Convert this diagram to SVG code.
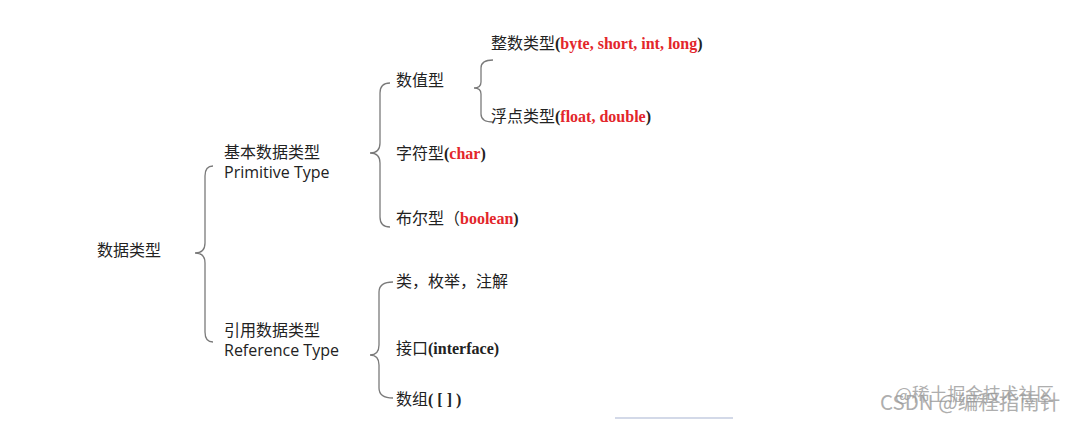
<svg xmlns="http://www.w3.org/2000/svg" width="1068" height="421" viewBox="0 0 1068 421">
<style>
.cn{font-family:"Noto Sans CJK SC","Open Sans",sans-serif;font-size:16px;fill:#222}
.en{font-family:"Open Sans","Noto Sans CJK SC",sans-serif;font-size:16px;fill:#222}
.sr{font-family:"Liberation Serif","Noto Sans CJK SC",serif;font-weight:bold;font-size:16px;fill:#222}
.red{fill:#e3262b}
.brace{fill:none;stroke:#7a7a7a;stroke-width:1.3}
.wm{font-family:"Noto Sans CJK SC","Liberation Sans",sans-serif;fill:#9a9a9a;opacity:0.8}
</style>
<rect width="1068" height="421" fill="#ffffff"/>
<g id="connectors">
<path class="brace" d="M213,166 Q205,166 205,176 L205,243 Q205,253 195,253 Q205,253 205,263 L205,332 Q205,342 213,342"/>
<path class="brace" d="M390,83 Q380,83 380,93 L380,143 Q380,153 370,153 Q380,153 380,163 L380,217 Q380,227 390,227"/>
<path class="brace" d="M393,282 Q379,282 379,292 L379,345 Q379,355 370,355 Q379,355 379,365 L379,388 Q379,398 393,398"/>
<path class="brace" d="M493,60 Q481,60 481,68 L481,82 Q481,88 474,88 Q481,88 481,94 L481,114 Q481,122 493,122"/>
</g>
<g id="root"><text class="cn" x="97" y="256">数据类型</text></g>
<g id="primitive"><text class="cn" x="224" y="158">基本数据类型</text><text class="en" x="224" y="178">Primitive Type</text></g>
<g id="reference"><text class="cn" x="224" y="336">引用数据类型</text><text class="en" x="224" y="356">Reference Type</text></g>
<g id="numeric"><text class="cn" x="396" y="86">数值型</text></g>
<g id="integer"><text x="491" y="49"><tspan class="cn">整数类型</tspan><tspan class="sr">(</tspan><tspan class="sr red">byte, short, int, long</tspan><tspan class="sr">)</tspan></text></g>
<g id="float"><text x="491" y="122"><tspan class="cn">浮点类型</tspan><tspan class="sr">(</tspan><tspan class="sr red">float, double</tspan><tspan class="sr">)</tspan></text></g>
<g id="char"><text x="396" y="159"><tspan class="cn">字符型</tspan><tspan class="sr">(</tspan><tspan class="sr red">char</tspan><tspan class="sr">)</tspan></text></g>
<g id="boolean"><text x="396" y="224"><tspan class="cn">布尔型（</tspan><tspan class="sr red">boolean</tspan><tspan class="sr">)</tspan></text></g>
<g id="class"><text class="cn" x="396" y="287">类，枚举，注解</text></g>
<g id="interface"><text x="396" y="354"><tspan class="cn">接口</tspan><tspan class="sr">(interface)</tspan></text></g>
<g id="array"><text x="396" y="405"><tspan class="cn">数组</tspan><tspan class="sr" font-weight="normal">( [ ] )</tspan></text></g>
<g id="watermark">
<text class="wm" x="895" y="401" font-size="17.8">@稀土掘金技术社区</text>
<text class="wm" x="880" y="410" font-size="20.5">CSDN @编程指南针</text>
<line x1="615" y1="418" x2="733" y2="418" stroke="#c5cde0" stroke-width="1.5"/>
</g>
</svg>
